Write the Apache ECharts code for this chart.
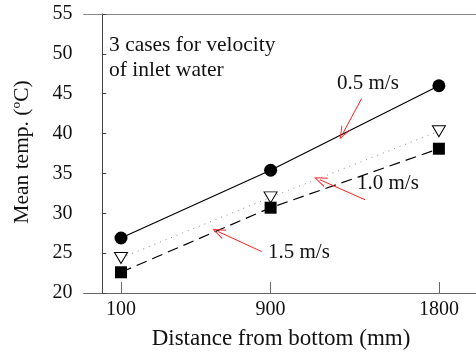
<!DOCTYPE html>
<html><head><meta charset="utf-8">
<script src="https://cdn.jsdelivr.net/npm/echarts@6/dist/echarts.min.js"></script>
<style>html,body{margin:0;padding:0;background:#fff;overflow:hidden}#c{width:500px;height:354px}</style>
</head><body><div id="c"></div>
<script>
var distances = [100, 900, 1800];
var v05 = [26.9, 35.4, 46.0];
var v10 = [24.4, 32.0, 40.3];
var v15 = [22.6, 30.7, 38.1];
var yTicks = [20, 25, 30, 35, 40, 45, 50, 55];
var seriesNames = ['0.5 m/s', '1.0 m/s', '1.5 m/s'];
// annotation arrows in data coordinates [from, to]
var arrows = [
  [[1387, 44.4], [1286, 40.0]],
  [[1405, 31.7], [1164, 34.2]],
  [[852, 25.2], [620, 27.7]]
];
var FONT = '"Liberation Serif", "Times New Roman", serif';
function pairs(vals){ return distances.map(function(d,i){ return [d, vals[i]]; }); }
var chart = echarts.init(document.getElementById('c'), null, {renderer:'canvas'});
var arrowLines = arrows.map(function(a){ return [{coord:a[0]},{coord:a[1]}]; });
var chevron = 'path://M0,0 L-4.5,12 L-3.6,12 L0,2.2 L3.6,12 L4.5,12 Z';
chart.setOption({
  animation:false,
  backgroundColor:'#fff',
  grid:{left:83.6, top:14, right:5, bottom:61, outerBoundsMode:'none', containLabel:false, show:false},
  xAxis:[{type:'value', min:-100, max:2100,
    axisLine:{show:true, onZero:false, lineStyle:{color:'#666', width:1}},
    axisTick:{show:true, inside:true, length:11, customValues:distances, lineStyle:{color:'#666'}},
    axisLabel:{customValues:distances, formatter:function(v){return String(v);}, color:'#111', fontSize:20, fontFamily:FONT, margin:7},
    splitLine:{show:false}},
   {type:'value', position:'top', min:-100, max:2100,
    axisLine:{show:true, onZero:false, lineStyle:{color:'#888', width:1}},
    axisTick:{show:false}, axisLabel:{show:false}, splitLine:{show:false}}],
  yAxis:{type:'value', min:20, max:55, interval:5,
    axisLine:{show:true, lineStyle:{color:'#444', width:1}},
    axisTick:{show:true, inside:true, length:4, lineStyle:{color:'#444'}},
    axisLabel:{color:'#111', fontSize:20, fontFamily:FONT, margin:11, customValues:yTicks},
    splitLine:{show:false}},
  graphic:[
    {type:'text', left:109, top:33, style:{text:'3 cases for velocity\nof inlet water', font:'21.5px '+FONT, fill:'#111', lineHeight:25}},
    {type:'text', left:337, top:73, style:{text:seriesNames[0], font:'21px '+FONT, fill:'#111'}},
    {type:'text', left:357, top:173, style:{text:seriesNames[1], font:'21px '+FONT, fill:'#111'}},
    {type:'text', left:268, top:242, style:{text:seriesNames[2], font:'21px '+FONT, fill:'#111'}},
    {type:'text', x:281, y:339, style:{text:'Distance from bottom (mm)', font:'23px '+FONT, fill:'#111', align:'center', verticalAlign:'middle'}},
    {type:'text', x:22, y:152, rotation:Math.PI/2, style:{text:'Mean temp. (ºC)', font:'21.5px '+FONT, fill:'#111', align:'center', verticalAlign:'middle'}}
  ],
  series:[
    {name:seriesNames[0], type:'line', data:pairs(v05), symbol:'circle', symbolSize:13,
      itemStyle:{color:'#000'}, lineStyle:{color:'#000', width:1.2, type:'solid'},
      markLine:{silent:true, symbol:['none',chevron], symbolSize:[10,13], symbolKeepAspect:false, label:{show:false},
        lineStyle:{color:'#ff2020', width:1, type:'solid'}, data:arrowLines}},
    {name:seriesNames[1], type:'line', data:pairs(v10), symbol:'triangle', symbolRotate:180, symbolSize:[13,11],
      itemStyle:{color:'#fff', borderColor:'#000', borderWidth:1}, lineStyle:{color:'#888', width:1, type:[1,5]}},
    {name:seriesNames[2], type:'line', data:pairs(v15), symbol:'rect', symbolSize:12,
      itemStyle:{color:'#000'}, lineStyle:{color:'#000', width:1.2, type:[11,6]}}
  ]
});
</script></body></html>
